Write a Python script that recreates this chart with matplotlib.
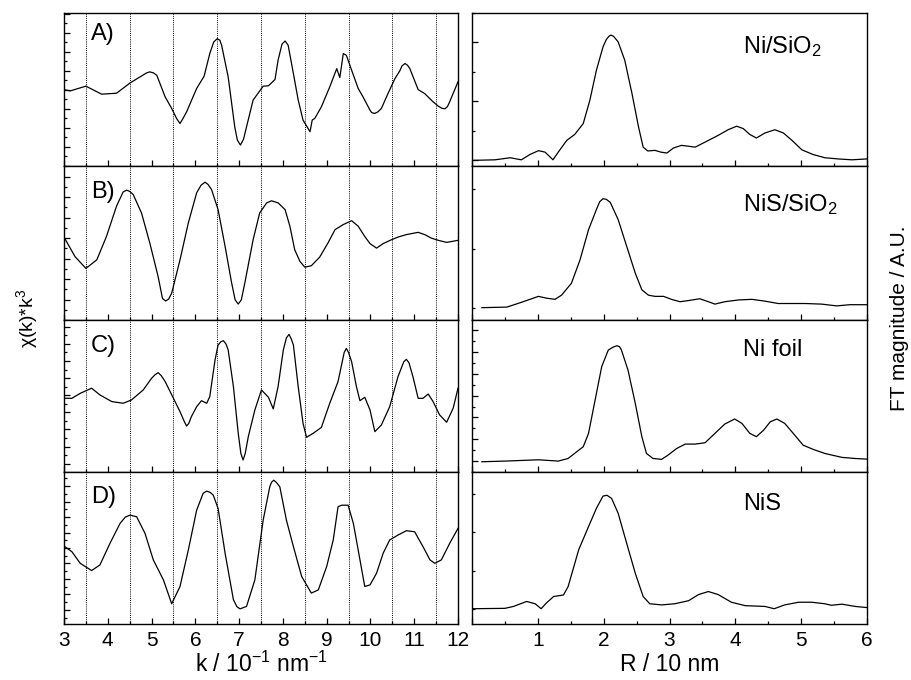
import matplotlib
matplotlib.use("Agg")
import matplotlib.pyplot as plt
from matplotlib.ticker import MultipleLocator, FixedLocator, NullFormatter, FixedFormatter

plt.rcParams['font.family'] = ['Liberation Sans', 'DejaVu Sans']
plt.rcParams['mathtext.fontset'] = 'custom'
plt.rcParams['mathtext.rm'] = 'Liberation Sans'
plt.rcParams['mathtext.it'] = 'Liberation Sans:italic'
plt.rcParams['mathtext.bf'] = 'Liberation Sans:bold'

# ---------------- data: k-space chi(k)*k^3 (arbitrary units) ----------------
kA = [3.00,3.14,3.50,3.86,4.20,4.51,4.89,4.96,5.04,5.12,5.31,5.46,5.57,5.65,5.72,5.80,6.03,6.20,6.33,6.42,
      6.50,6.56,6.60,6.75,6.90,6.96,7.03,7.10,7.17,7.32,7.55,7.67,7.82,7.89,7.98,8.05,8.12,8.24,8.35,8.46,
      8.62,8.67,8.73,8.88,9.07,9.23,9.30,9.38,9.45,9.57,9.72,9.83,9.99,10.03,10.10,10.17,10.25,10.40,10.56,10.67,
      10.72,10.79,10.85,10.90,11.09,11.24,11.43,11.55,11.63,11.70,11.76,11.81,12.00]
chiA = [4.01,3.94,4.19,3.77,3.82,4.36,4.89,4.94,4.89,4.76,3.63,3.02,2.50,2.23,2.50,2.84,4.07,4.71,5.90,6.51,
        6.68,6.60,6.34,4.68,2.06,1.36,1.10,1.40,2.06,3.46,4.19,4.21,4.54,5.55,6.40,6.56,6.34,4.85,3.46,2.41,
        1.80,2.41,2.50,3.11,4.15,5.11,4.64,5.90,5.81,5.03,4.07,3.63,2.93,2.80,2.76,2.84,3.02,3.80,4.59,4.99,
        5.25,5.38,5.28,5.11,4.01,3.80,3.37,3.14,3.03,3.00,3.12,3.37,4.42]

kB = [3.00,3.25,3.50,3.75,3.97,4.20,4.35,4.43,4.50,4.58,4.77,4.96,5.15,5.25,5.32,5.39,5.46,5.65,5.84,6.03,
      6.13,6.22,6.29,6.37,6.52,6.68,6.83,6.91,6.98,7.05,7.13,7.32,7.47,7.63,7.74,7.89,8.05,8.16,8.27,8.39,
      8.50,8.65,8.84,9.03,9.19,9.38,9.57,9.72,9.87,9.99,10.14,10.29,10.48,10.63,10.82,11.09,11.24,11.39,11.55,11.74,
      12.00]
chiB = [4.05,3.10,2.52,2.94,4.08,5.56,6.25,6.34,6.28,6.13,5.23,3.76,2.12,1.05,0.93,1.02,1.31,2.94,4.74,6.21,
        6.58,6.73,6.62,6.37,5.39,3.59,1.80,0.98,0.78,0.98,1.80,3.92,5.23,5.72,5.82,5.72,5.39,4.58,3.43,2.86,
        2.58,2.65,3.07,3.76,4.41,4.66,4.85,4.58,4.08,3.73,3.51,3.73,3.92,4.05,4.17,4.28,4.17,4.00,3.89,3.79,
        3.89]

kC = [3.00,3.18,3.37,3.63,3.82,4.09,4.35,4.54,4.81,5.00,5.08,5.15,5.22,5.31,5.50,5.65,5.75,5.80,5.85,5.91,
      6.03,6.14,6.26,6.33,6.45,6.52,6.58,6.64,6.70,6.75,6.87,6.98,7.04,7.09,7.14,7.21,7.36,7.51,7.67,7.78,
      7.89,8.01,8.08,8.14,8.19,8.24,8.35,8.46,8.54,8.69,8.88,9.07,9.26,9.40,9.45,9.50,9.57,9.68,9.76,9.87,
      9.99,10.10,10.25,10.44,10.63,10.76,10.82,10.88,10.97,11.09,11.20,11.32,11.43,11.58,11.74,11.89,12.00]
chiC = [3.82,3.82,4.11,4.41,4.02,3.63,3.53,3.72,4.31,4.99,5.20,5.32,5.15,4.80,3.82,3.04,2.45,2.20,2.35,2.75,
        3.33,3.68,3.53,3.92,6.06,6.94,7.12,7.19,7.00,6.65,4.50,1.77,0.60,0.21,0.60,1.58,3.14,4.31,3.88,3.20,
        4.50,6.65,7.35,7.56,7.30,6.94,4.50,2.36,1.54,1.77,2.12,3.53,4.80,6.50,6.74,6.50,5.96,4.50,3.68,3.88,
        3.14,1.87,2.26,3.33,5.09,5.95,6.10,5.90,5.09,3.82,3.82,4.07,3.63,2.85,2.42,3.24,4.41]

kD = [3.00,3.18,3.37,3.63,3.82,4.05,4.28,4.40,4.51,4.66,4.85,5.04,5.27,5.46,5.65,5.84,6.03,6.18,6.26,6.34,
      6.41,6.52,6.68,6.87,6.95,7.02,7.17,7.36,7.55,7.70,7.74,7.79,7.85,7.93,8.08,8.24,8.43,8.65,8.81,9.00,
      9.15,9.26,9.34,9.49,9.61,9.72,9.87,9.99,10.14,10.29,10.44,10.63,10.82,11.01,11.20,11.36,11.47,11.62,11.81,12.00]
chiD = [4.13,3.76,3.01,2.54,2.90,4.30,5.59,6.00,6.13,6.02,4.95,3.23,1.94,0.39,1.51,3.87,6.45,7.55,7.68,7.60,
        7.42,6.56,3.66,0.65,0.20,0.06,0.22,1.94,5.81,7.96,8.25,8.39,8.25,7.96,5.81,4.09,2.15,1.08,1.29,2.80,
        4.52,6.67,6.77,6.77,5.59,3.87,1.51,1.61,2.37,3.66,4.52,4.84,5.12,5.05,4.09,3.23,3.01,3.23,4.30,5.27]

# ---------------- data: R-space FT magnitude (arbitrary units) ----------------
rA = [0.00,0.35,0.58,0.75,0.88,1.01,1.11,1.23,1.31,1.44,1.56,1.69,1.79,1.89,1.99,2.04,2.08,2.11,2.15,2.22,
      2.32,2.43,2.53,2.60,2.67,2.78,2.87,2.96,3.06,3.18,3.29,3.39,3.54,3.74,3.89,4.02,4.12,4.22,4.32,4.45,
      4.60,4.73,4.86,5.01,5.18,5.36,5.56,5.77,6.00]
ftA = [0.00,0.02,0.09,0.02,0.20,0.33,0.28,0.02,0.28,0.68,0.88,1.25,2.04,3.06,3.85,4.10,4.21,4.25,4.21,4.02,
       3.40,2.27,1.13,0.45,0.32,0.34,0.28,0.25,0.42,0.51,0.48,0.45,0.62,0.85,1.04,1.16,1.08,0.88,0.76,0.93,
       1.04,0.93,0.68,0.36,0.20,0.09,0.05,0.02,0.05]

rB = [0.15,0.53,0.75,1.01,1.13,1.26,1.36,1.51,1.64,1.77,1.89,1.94,1.99,2.04,2.10,2.22,2.35,2.48,2.58,2.68,
      2.78,2.91,3.03,3.16,3.29,3.46,3.59,3.69,3.84,4.05,4.25,4.45,4.65,4.81,5.06,5.31,5.54,5.74,6.00]
ftB = [0.01,0.02,0.10,0.20,0.17,0.15,0.22,0.42,0.81,1.32,1.66,1.79,1.84,1.83,1.78,1.49,1.04,0.59,0.31,0.22,
       0.20,0.20,0.15,0.11,0.13,0.16,0.11,0.07,0.11,0.14,0.15,0.12,0.08,0.08,0.08,0.07,0.04,0.06,0.06]

rC = [0.15,0.50,1.01,1.31,1.46,1.69,1.77,1.87,1.97,2.07,2.14,2.20,2.24,2.27,2.37,2.48,2.58,2.65,2.75,2.88,
      2.98,3.11,3.24,3.39,3.54,3.69,3.84,3.99,4.10,4.22,4.32,4.43,4.53,4.63,4.75,4.88,5.03,5.18,5.36,5.62,
      5.82,6.00]
ftC = [-0.03,0.00,0.06,0.00,0.12,0.66,1.27,2.80,4.33,5.09,5.22,5.29,5.25,5.09,4.17,2.65,1.12,0.35,0.12,0.08,
       0.28,0.58,0.78,0.78,0.84,1.27,1.70,1.93,1.73,1.27,1.12,1.42,1.80,1.93,1.73,1.27,0.73,0.54,0.35,0.17,
       0.12,0.09]

rD = [0.00,0.50,0.63,0.83,0.96,1.05,1.13,1.24,1.39,1.46,1.62,1.77,1.89,1.99,2.05,2.12,2.22,2.35,2.48,2.60,
      2.70,2.88,3.08,3.29,3.44,3.59,3.74,3.94,4.15,4.45,4.59,4.75,4.96,5.16,5.36,5.46,5.62,5.82,6.00]
ftD = [0.00,0.01,0.06,0.19,0.13,0.00,0.15,0.32,0.36,0.58,1.54,2.15,2.63,2.95,2.97,2.89,2.50,1.71,0.93,0.32,
       0.13,0.10,0.13,0.21,0.37,0.45,0.37,0.17,0.08,0.06,0.00,0.10,0.17,0.17,0.13,0.09,0.12,0.06,0.03]

panel_letters = ["A)", "B)", "C)", "D)"]
sample_names = ["Ni/SiO$_\\mathregular{2}$", "NiS/SiO$_\\mathregular{2}$", "Ni foil", "NiS"]
dotted_k = [3.5, 4.5, 5.5, 6.5, 7.5, 8.5, 9.5, 10.5, 11.5]
k_ticks = [3, 4, 5, 6, 7, 8, 9, 10, 11, 12]
r_ticks = [0, 1, 2, 3, 4, 5, 6]

k_series = [(kA, chiA), (kB, chiB), (kC, chiC), (kD, chiD)]
r_series = [(rA, ftA), (rB, ftB), (rC, ftC), (rD, ftD)]

# ---------------- layout ----------------
W, H = 912, 680
fig = plt.figure(figsize=(W / 100, H / 100), dpi=100)
rows_px = [13, 166, 320, 472, 624]
left_px = (64, 458)
right_px = (472, 867)

k_ylims = [(0, 8.03), (0, 7.52), (-0.49, 8.40), (-0.92, 8.92)]
r_ylims = [(-0.19, 5.0), (-0.197, 2.39), (-0.5, 6.47), (-0.4, 3.58)]
r_major = [2, 1, 1, 1]
r_minor = [1, None, 0.5, None]
label_y_k = [0.86, 0.83, 0.83, 0.835]
label_y_r = [0.78, 0.75, 0.80, 0.79]

tick_fs = 15
lw_curve = 0.9


def style(ax):
    for s in ax.spines.values():
        s.set_linewidth(1.0)
    ax.tick_params(which='both', direction='in', top=False, right=False,
                   width=0.9, labelsize=tick_fs, pad=5)
    ax.tick_params(which='major', length=4.0)
    ax.tick_params(which='minor', length=2.2)
    ax.yaxis.set_major_formatter(NullFormatter())


for i in range(4):
    top, bot = rows_px[i], rows_px[i + 1]
    y0 = 1 - bot / H
    h = (bot - top) / H

    # left (k-space)
    axk = fig.add_axes([left_px[0] / W, y0, (left_px[1] - left_px[0]) / W, h])
    kx, ky = k_series[i]
    axk.plot(kx, ky, color='black', lw=lw_curve)
    for xv in dotted_k:
        axk.axvline(xv, color='black', lw=0.7, ls=(0, (1, 1.2)), zorder=0)
    axk.set_xlim(3, 12)
    axk.set_ylim(*k_ylims[i])
    style(axk)
    axk.xaxis.set_major_locator(FixedLocator(k_ticks))
    axk.xaxis.set_minor_locator(MultipleLocator(0.5))
    axk.yaxis.set_major_locator(MultipleLocator(1))
    axk.yaxis.set_minor_locator(MultipleLocator(0.5))
    axk.text(0.068, label_y_k[i], panel_letters[i], transform=axk.transAxes,
             fontsize=17, ha='left', va='center')
    if i < 3:
        axk.tick_params(labelbottom=False)

    # right (R-space)
    axr = fig.add_axes([right_px[0] / W, y0, (right_px[1] - right_px[0]) / W, h])
    rx, ry = r_series[i]
    axr.plot(rx, ry, color='black', lw=lw_curve)
    axr.set_xlim(0, 6)
    axr.set_ylim(*r_ylims[i])
    style(axr)
    axr.xaxis.set_major_locator(FixedLocator(r_ticks))
    axr.xaxis.set_minor_locator(MultipleLocator(0.5))
    axr.yaxis.set_major_locator(MultipleLocator(r_major[i]))
    if r_minor[i]:
        axr.yaxis.set_minor_locator(MultipleLocator(r_minor[i]))
    else:
        axr.tick_params(axis='y', which='major', length=2.4)
    axr.text(0.686, label_y_r[i], sample_names[i], transform=axr.transAxes,
             fontsize=17, ha='left', va='center')
    if i < 3:
        axr.tick_params(labelbottom=False)
    else:
        axr.xaxis.set_major_formatter(FixedFormatter(['', '1', '2', '3', '4', '5', '6']))
        axr.set_xlabel('R / 10 nm', fontsize=16.5, labelpad=2)
        axk.set_xlabel('k / 10$^{\\mathregular{-1}}$ nm$^{\\mathregular{-1}}$', fontsize=16.5, labelpad=1)

yc = 1 - (rows_px[0] + rows_px[-1]) / 2 / H
fig.text(27 / W, yc, '\u03c7(k)*k$^{\\mathregular{3}}$', rotation=90, fontsize=14,
         ha='center', va='center')
fig.text(900 / W, yc, 'FT magnitude / A.U.', rotation=90, fontsize=15,
         ha='center', va='center')

fig.savefig('out.png', dpi=100)
